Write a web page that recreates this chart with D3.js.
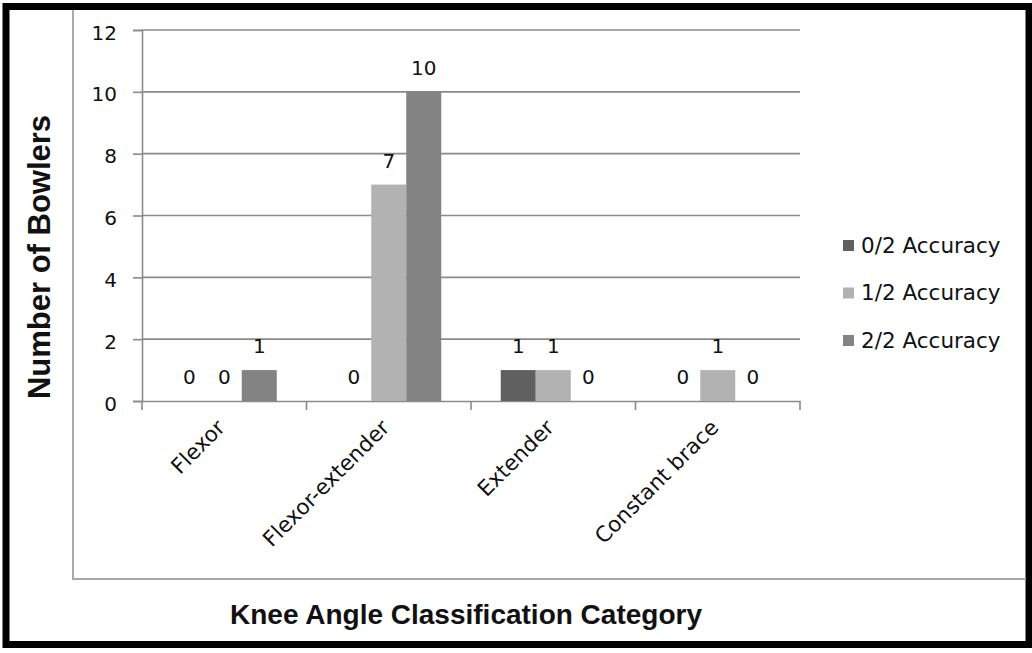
<!DOCTYPE html>
<html>
<head>
<meta charset="utf-8">
<style>
body { margin: 0; background: #fff; }
svg text { font-family: "DejaVu Sans", Tahoma, sans-serif; fill: #111; }
.title { font-family: "Liberation Sans", Arial, sans-serif; font-weight: bold; }
</style>
<script src="https://d3js.org/d3.v7.min.js"></script>
</head>
<body>
<div id="chart"></div>
<script>
    // data
    var categories = ["Flexor", "Flexor-extender", "Extender", "Constant brace"];
    var seriesNames = ["0/2 Accuracy", "1/2 Accuracy", "2/2 Accuracy"];
    var acc0 = [0, 0, 1, 0];
    var acc1 = [0, 7, 1, 1];
    var acc2 = [1, 10, 0, 0];
    var yTicks = [0, 2, 4, 6, 8, 10, 12];
    var colors = ["#606060", "#b2b2b2", "#838383"];

    var W = 1032, H = 653;
    var svg = d3.select("#chart").append("svg")
        .attr("width", W).attr("height", H);

    // outer black frame
    svg.append("rect")
        .attr("x", 6).attr("y", 6.5)
        .attr("width", 1023).attr("height", 638)
        .attr("fill", "none").attr("stroke", "#000").attr("stroke-width", 7);

    // chart area edge (left + bottom only show)
    svg.append("path")
        .attr("d", "M73,10 V579 H1026")
        .attr("fill", "none").attr("stroke", "#a8a8a8").attr("stroke-width", 2);

    var x = d3.scaleBand().domain(categories).range([142, 800]).paddingInner(0).paddingOuter(0);
    var y = d3.scaleLinear().domain([0, 12]).range([401, 30]);
    var xs = d3.scaleBand().domain(seriesNames).range([0, 105]);

    // gridlines
    svg.append("g").selectAll("line").data(yTicks.slice(1)).enter().append("line")
        .attr("x1", 142).attr("x2", 800)
        .attr("y1", function(d){ return y(d); }).attr("y2", function(d){ return y(d); })
        .attr("stroke", "#8a8a8a").attr("stroke-width", 1.6);

    // y axis
    var yAxis = svg.append("g")
        .attr("transform", "translate(142,0)")
        .call(d3.axisLeft(y).tickValues(yTicks).tickSize(9).tickPadding(16));
    yAxis.select(".domain").attr("stroke", "#8a8a8a").attr("stroke-width", 1.6);
    yAxis.selectAll(".tick line").attr("stroke", "#8a8a8a").attr("stroke-width", 1.6);
    yAxis.selectAll(".tick text")
        .attr("font-size", 20).attr("dy", "0.45em")
        .style("font-family", "'DejaVu Sans', Tahoma, sans-serif").attr("fill", "#111");

    // x axis
    var xAxis = svg.append("g")
        .attr("transform", "translate(0," + y(0) + ")")
        .call(d3.axisBottom(x).tickSize(0).tickFormat(""));
    xAxis.select(".domain").attr("stroke", "#8a8a8a").attr("stroke-width", 1.6);
    svg.append("g").selectAll("line").data(d3.range(categories.length + 1)).enter().append("line")
        .attr("x1", function(i){ return 142 + i * x.step(); })
        .attr("x2", function(i){ return 142 + i * x.step(); })
        .attr("y1", y(0)).attr("y2", y(0) + 9)
        .attr("stroke", "#8a8a8a").attr("stroke-width", 1.6);

    // bars
    var allSeries = [acc0, acc1, acc2];
    var offset = (x.bandwidth() - 105) / 2;
    allSeries.forEach(function(vals, s) {
        var g = svg.append("g");
        g.selectAll("rect").data(vals).enter().append("rect")
            .attr("x", function(d, i){ return x(categories[i]) + offset + xs(seriesNames[s]); })
            .attr("y", function(d){ return y(d); })
            .attr("width", xs.bandwidth())
            .attr("height", function(d){ return y(0) - y(d); })
            .attr("fill", colors[s]);
        g.selectAll("text").data(vals).enter().append("text")
            .attr("x", function(d, i){ return x(categories[i]) + offset + xs(seriesNames[s]) + xs.bandwidth() / 2; })
            .attr("y", function(d){ return y(d) - 17; })
            .attr("text-anchor", "middle")
            .attr("font-size", 20)
            .text(function(d){ return d; });
    });

    // category labels, rotated
    svg.append("g").selectAll("text").data(categories).enter().append("text")
        .attr("transform", function(d){
            return "translate(" + (x(d) + x.bandwidth() / 2 + 2) + "," + 429 + ") rotate(-45)";
        })
        .attr("text-anchor", "end")
        .attr("font-size", 21.5)
        .text(function(d){ return d; });

    // legend
    var legend = svg.append("g").selectAll("g").data(seriesNames).enter().append("g")
        .attr("transform", function(d, i){ return "translate(843," + (245 + i * 47.5) + ")"; });
    legend.append("rect")
        .attr("x", 0).attr("y", -5).attr("width", 11).attr("height", 11)
        .attr("fill", function(d, i){ return colors[i]; });
    legend.append("text")
        .attr("x", 18).attr("y", 0).attr("dy", "0.35em")
        .attr("font-size", 21.5)
        .text(function(d){ return d; });

    // axis titles
    svg.append("text")
        .attr("class", "title")
        .attr("transform", "translate(50,257) rotate(-90)")
        .attr("text-anchor", "middle")
        .attr("font-size", 31)
        .text("Number of Bowlers");

    svg.append("text")
        .attr("class", "title")
        .attr("x", 466).attr("y", 624)
        .attr("text-anchor", "middle")
        .attr("font-size", 28)
        .text("Knee Angle Classification Category");
</script>
</body>
</html>
